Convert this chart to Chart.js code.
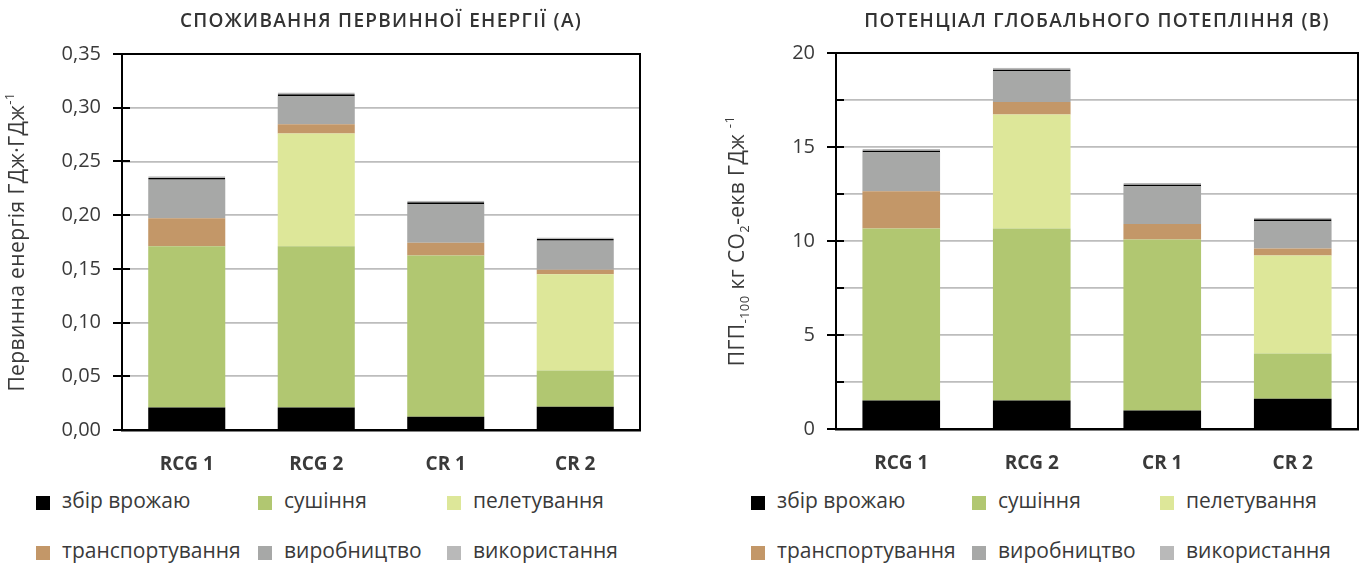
<!DOCTYPE html>
<html><head><meta charset="utf-8">
<script src="https://cdn.jsdelivr.net/npm/chart.js@4/dist/chart.umd.min.js"></script>
<style>
html,body{margin:0;padding:0;background:#fff;}
body{width:1365px;height:565px;overflow:hidden;position:relative;font-family:'Open Sans',sans-serif;color:#333;}
canvas{position:absolute;top:0;}
#c1{left:0;}
#c2{left:682px;}
.li{position:absolute;height:20px;line-height:20px;font-size:21px;color:#3a3a3a;white-space:nowrap;}
.li i{position:absolute;left:0;top:3px;width:14px;height:14px;}
.li span{position:absolute;left:26px;top:-3px;}
</style></head><body>
<canvas id="c1" width="682" height="480"></canvas>
<canvas id="c2" width="683" height="480"></canvas>
<div id="legend"></div>
<script>
// ---- data ----
const categories = ['RCG 1', 'RCG 2', 'CR 1', 'CR 2'];
const stageNames = ['збір врожаю', 'сушіння', 'пелетування', 'транспортування', 'виробництво', 'використання'];
const stageColors = ['#000000', '#b1c771', '#dde799', '#c39768', '#a7a8a7', '#b9b9b9'];

// Primary energy consumption, GJ/GJ
const energyHarvest    = [0.021, 0.021, 0.0124, 0.0217];
const energyDrying     = [0.150, 0.150, 0.150, 0.0336];
const energyPelleting  = [0, 0.105, 0, 0.0896];
const energyTransport  = [0.026, 0.0085, 0.012, 0.0043];
const energyProduction = [0.036, 0.0265, 0.036, 0.027];
const energyUse        = [0.0031, 0.0031, 0.0031, 0.0031];

// Global warming potential, kg CO2-eq / GJ
const gwpHarvest    = [1.51, 1.51, 0.98, 1.61];
const gwpDrying     = [9.16, 9.16, 9.10, 2.40];
const gwpPelleting  = [0, 6.06, 0, 5.22];
const gwpTransport  = [1.97, 0.66, 0.82, 0.37];
const gwpProduction = [2.09, 1.65, 2.02, 1.47];
const gwpUse        = [0.17, 0.17, 0.17, 0.17];

const energySeries = [energyHarvest, energyDrying, energyPelleting, energyTransport, energyProduction, energyUse];
const gwpSeries = [gwpHarvest, gwpDrying, gwpPelleting, gwpTransport, gwpProduction, gwpUse];

const FONT = "'Open Sans', sans-serif";
const TXT = '#3a3a3a';

function makeDatasets(series) {
  return series.map((vals, i) => {
    const ds = {
      label: stageNames[i],
      data: vals,
      backgroundColor: stageColors[i],
      borderWidth: 0,
      categoryPercentage: 1,
      barPercentage: 0.595,
      stack: 's'
    };
    if (i === series.length - 1) {
      ds.borderWidth = {top: 0, left: 0, right: 0, bottom: 3};
      ds.borderColor = '#000';
      ds.borderSkipped = false;
    }
    return ds;
  });
}

const decor = {
  id: 'decor',
  afterDraw(chart, args, o) {
    const ctx = chart.ctx, a = chart.chartArea, ys = chart.scales.y;
    ctx.save();
    // frame top & right
    ctx.strokeStyle = '#000';
    ctx.lineWidth = 2;
    ctx.beginPath();
    ctx.moveTo(a.left, a.top); ctx.lineTo(a.right, a.top); ctx.lineTo(a.right, a.bottom);
    ctx.stroke();
    // ticks
    ys.ticks.forEach(t => {
      const y = Math.round(ys.getPixelForValue(t.value));
      const major = o.majorEvery ? Math.abs(t.value / o.majorEvery - Math.round(t.value / o.majorEvery)) < 1e-6 : true;
      ctx.beginPath();
      ctx.moveTo(major ? a.left - 9 : a.left, y);
      ctx.lineTo(a.left + 8, y);
      ctx.stroke();
    });
    // title
    ctx.fillStyle = '#333';
    ctx.font = "600 19px " + FONT;
    ctx.letterSpacing = o.titleSpacing;
    ctx.textAlign = 'center';
    ctx.textBaseline = 'middle';
    ctx.fillText(o.title, (a.left + a.right) / 2, 22);
    ctx.letterSpacing = '0.4px';
    ctx.fillStyle = TXT;
    // axis title (rich text, rotated)
    const segs = o.axisTitle;
    const base = "21px " + FONT, small = "13px " + FONT;
    let total = 0;
    segs.forEach(s => { ctx.font = s.s ? small : base; s.w = ctx.measureText(s.t).width; total += s.w; });
    ctx.translate(o.axisX, (a.top + a.bottom) / 2);
    ctx.rotate(-Math.PI / 2);
    ctx.textAlign = 'left';
    ctx.textBaseline = 'middle';
    let x = -total / 2;
    segs.forEach(s => {
      ctx.font = s.s ? small : base;
      const dy = s.s === 'sub' ? 7 : (s.s === 'sup' ? -8 : 0);
      ctx.fillText(s.t, x, dy);
      x += s.w;
    });
    ctx.restore();
  }
};

function makeChart(id, series, yOpts, padding, yWidth, xHeight, decorOpts) {
  return new Chart(document.getElementById(id), {
    type: 'bar',
    data: { labels: categories, datasets: makeDatasets(series) },
    options: {
      responsive: false,
      animation: false,
      devicePixelRatio: 1,
      layout: { padding: padding },
      plugins: { legend: { display: false }, tooltip: { enabled: false }, decor: decorOpts },
      scales: {
        x: {
          stacked: true,
          grid: { display: false, drawTicks: false },
          border: { display: true, color: '#000', width: 2.5 },
          ticks: { color: TXT, font: { family: FONT, size: 19, weight: '700' }, padding: 23 },
          afterFit: s => { s.height = xHeight; }
        },
        y: Object.assign({
          stacked: true,
          beginAtZero: true,
          grid: { color: c => (c.tick && c.tick.value === yOpts.max) ? 'rgba(0,0,0,0)' : '#bdbdbd', lineWidth: 1.8, drawTicks: false },
          border: { display: true, color: '#000', width: 2 },
          afterFit: s => { s.width = yWidth; }
        }, yOpts)
      }
    },
    plugins: [decor]
  });
}

makeChart('c1', energySeries, {
  min: 0, max: 0.35,
  ticks: { stepSize: 0.05, color: TXT, font: { family: FONT, size: 20 }, padding: 21,
    callback: v => v.toFixed(2).replace('.', ',') }
}, { top: 54, right: 42, left: 0, bottom: 0 }, 122, 50, {
  title: 'СПОЖИВАННЯ ПЕРВИННОЇ ЕНЕРГІЇ (А)',
  titleSpacing: '1.3px',
  axisX: 18,
  majorEvery: 0,
  axisTitle: [{ t: 'Первинна енергія ГДж·ГДж' }, { t: '-1', s: 'sup' }]
});

makeChart('c2', gwpSeries, {
  min: 0, max: 20,
  ticks: { stepSize: 2.5, color: TXT, font: { family: FONT, size: 20 }, padding: 21,
    callback: v => (Math.abs(v % 5) < 1e-9 ? String(v) : '') }
}, { top: 53, right: 7, left: 0, bottom: 0 }, 154, 51, {
  title: 'ПОТЕНЦІАЛ ГЛОБАЛЬНОГО ПОТЕПЛІННЯ (В)',
  titleSpacing: '1.3px',
  axisX: 56,
  majorEvery: 5,
  axisTitle: [{ t: 'ПГП' }, { t: '-100', s: 'sub' }, { t: ' кг CO' }, { t: '2', s: 'sub' }, { t: '-екв ГДж ' }, { t: '-1', s: 'sup' }]
});

// ---- HTML legends ----
const legendCols = [[36, 258, 447], [751, 972, 1160]];
const legendRows = [493, 543];
const leg = document.getElementById('legend');
legendCols.forEach(cols => {
  stageNames.forEach((name, i) => {
    const d = document.createElement('div');
    d.className = 'li';
    d.style.left = cols[i % 3] + 'px';
    d.style.top = legendRows[Math.floor(i / 3)] + 'px';
    d.innerHTML = '<i style="background:' + stageColors[i] + '"></i><span>' + name + '</span>';
    leg.appendChild(d);
  });
});
</script>
</body></html>
